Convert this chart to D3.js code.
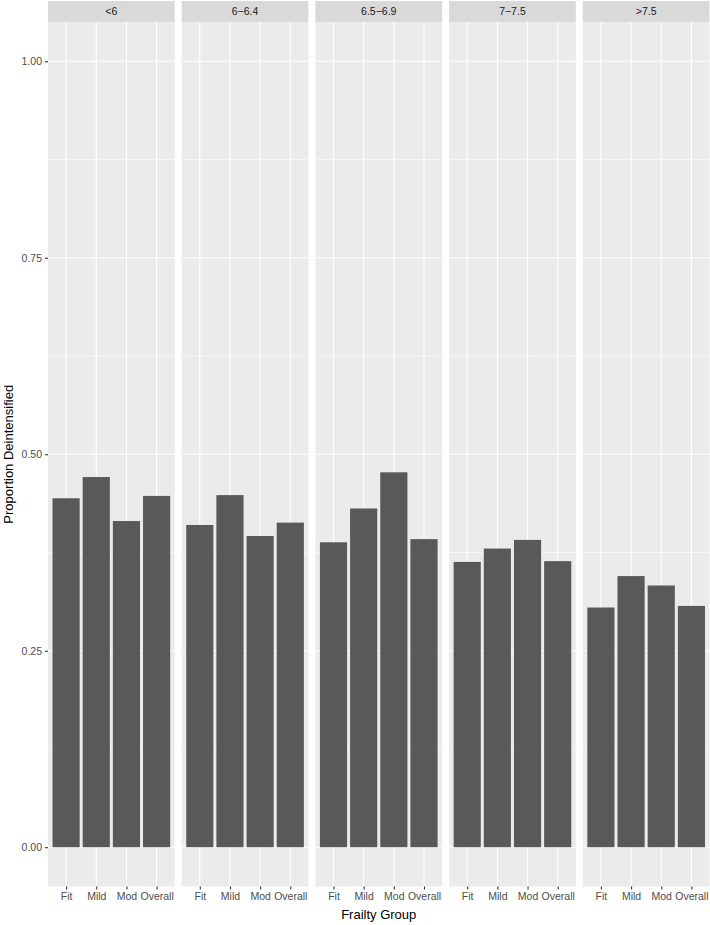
<!DOCTYPE html>
<html><head><meta charset="utf-8">
<script src="https://cdn.jsdelivr.net/npm/d3@7"></script>
<style>body{margin:0;background:#fff;font-family:"Liberation Sans",Arial,sans-serif;}</style>
</head><body><svg id="c" width="710" height="925"></svg>
<script>
const facets = ["<6", "6\u22126.4", "6.5\u22126.9", "7\u22127.5", ">7.5"];
const groups = ["Fit", "Mild", "Mod", "Overall"];
const values = [
  [0.444, 0.471, 0.415, 0.447],
  [0.410, 0.448, 0.396, 0.413],
  [0.388, 0.431, 0.477, 0.392],
  [0.363, 0.380, 0.391, 0.364],
  [0.305, 0.345, 0.333, 0.307]
];
const yTicks = [0, 0.25, 0.5, 0.75, 1.0];
const yMinor = [0.125, 0.375, 0.625, 0.875];
const xTitle = "Frailty Group";
const yTitle = "Proportion Deintensified";

const svg = d3.select("#c");
const left = 48, right = 709.5, gap = 7;
const stripTop = 1, stripH = 21, panelTop = 22, panelBot = 886.5;
const pw = (right - left - gap * 4) / 5;

const y = d3.scaleLinear().domain([-0.05, 1.05]).range([panelBot, panelTop]);
const fx = d3.scaleBand().domain(facets).range([left, right]).paddingInner(gap / (pw + gap)).paddingOuter(0);
// discrete expansion 0.6 per side
const unit = pw / (groups.length - 1 + 1.2);
const x = d3.scalePoint().domain(groups).range([0.6 * unit, pw - 0.6 * unit]);
const bw = unit * 0.9;

facets.forEach((f, i) => {
  const g = svg.append("g").attr("transform", `translate(${fx(f)},0)`);
  g.append("rect").attr("x", 0).attr("y", panelTop).attr("width", pw).attr("height", panelBot - panelTop).attr("fill", "#ebebeb");
  yMinor.forEach(v => g.append("line").attr("x1", 0).attr("x2", pw).attr("y1", y(v)).attr("y2", y(v)).attr("stroke", "#fff").attr("stroke-width", 0.55));
  yTicks.forEach(v => g.append("line").attr("x1", 0).attr("x2", pw).attr("y1", y(v)).attr("y2", y(v)).attr("stroke", "#fff").attr("stroke-width", 1.1));
  groups.forEach(k => g.append("line").attr("x1", x(k)).attr("x2", x(k)).attr("y1", panelTop).attr("y2", panelBot).attr("stroke", "#fff").attr("stroke-width", 1.1));
  g.selectAll("rect.bar").data(values[i]).enter().append("rect").attr("class", "bar")
    .attr("x", (d, j) => x(groups[j]) - bw / 2).attr("width", bw)
    .attr("y", d => y(d)).attr("height", d => y(0) - y(d))
    .attr("fill", "#595959");
  // strip
  g.append("rect").attr("x", 0).attr("y", stripTop).attr("width", pw).attr("height", stripH).attr("fill", "#d9d9d9");
  g.append("text").attr("x", pw / 2).attr("y", stripTop + stripH / 2).attr("dy", "0.35em").attr("text-anchor", "middle")
    .attr("font-size", 10.5).attr("fill", "#1a1a1a").text(f);
  // x axis
  const ax = g.append("g").attr("transform", `translate(0,${panelBot})`).call(d3.axisBottom(x).tickSize(3).tickPadding(3));
  ax.select(".domain").remove();
  ax.selectAll("line").attr("stroke", "#333").attr("stroke-width", 1.1);
  ax.selectAll("text").attr("fill", "#4d4d4d").attr("font-size", 10.5).attr("font-family", "Liberation Sans, Arial, sans-serif");
});

const ay = svg.append("g").attr("transform", `translate(${left},0)`)
  .call(d3.axisLeft(y).tickValues(yTicks).tickFormat(d3.format(".2f")).tickSize(3).tickPadding(3));
ay.select(".domain").remove();
ay.selectAll("line").attr("stroke", "#333").attr("stroke-width", 1.1);
ay.selectAll("text").attr("fill", "#4d4d4d").attr("font-size", 10.5).attr("font-family", "Liberation Sans, Arial, sans-serif");

svg.append("text").attr("x", (left + right) / 2).attr("y", 919).attr("text-anchor", "middle")
  .attr("font-size", 13).attr("fill", "#000").text(xTitle);
svg.append("text").attr("transform", `translate(13,${(panelTop + panelBot) / 2}) rotate(-90)`).attr("text-anchor", "middle")
  .attr("font-size", 13).attr("fill", "#000").text(yTitle);
</script></body></html>
